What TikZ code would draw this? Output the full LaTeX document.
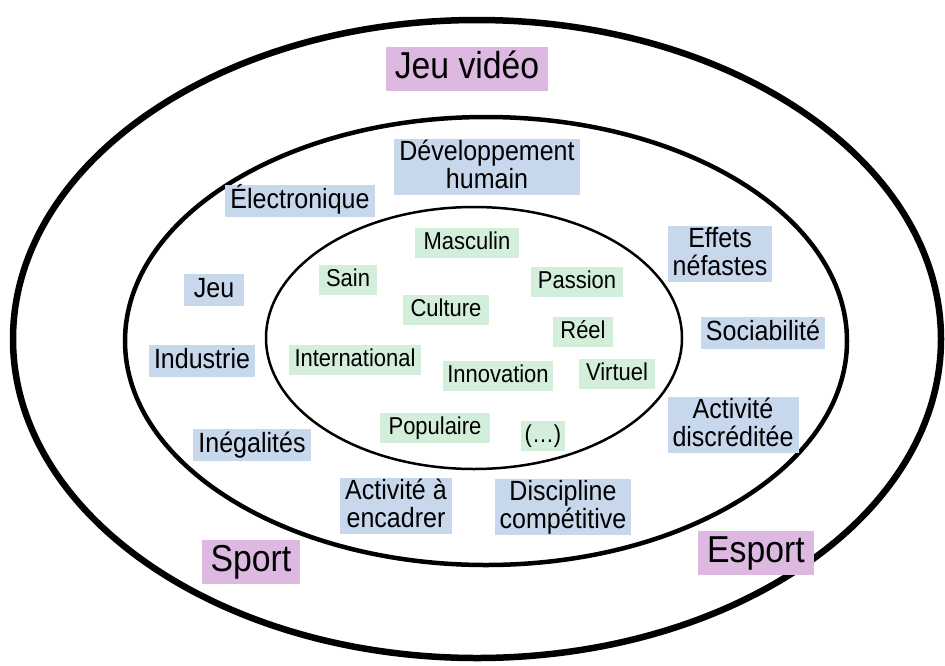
\documentclass[tikz,border=0pt]{standalone}
\usepackage{fontspec}
\setmainfont{Liberation Sans}[FakeStretch=0.9]
\usepackage{tikz}
\usetikzlibrary{positioning}
\usepackage{xcolor}
\definecolor{pinkbox}{HTML}{DDB9E1}
\definecolor{bluebox}{HTML}{C8D8EC}
\definecolor{greenbox}{HTML}{D3EEDA}
\newcommand{\ls}{\rule[-6pt]{0pt}{21pt}}
\tikzset{
  domaine/.style={fill=pinkbox,font=\fontsize{37.5}{37.5}\selectfont,
    text height=27pt,text depth=7.5pt,inner xsep=9pt,inner ysep=4.8pt},
  lien/.style={fill=bluebox,font=\fontsize{27.8}{23}\selectfont,
    text height=20.5pt,text depth=6pt,inner xsep=5pt,inner ysep=2.3pt},
  lienlong/.style={fill=bluebox,font=\fontsize{27.8}{28}\selectfont,
    align=center,inner xsep=5pt,inner ysep=1pt},
  commun/.style={fill=greenbox,font=\fontsize{24.4}{24}\selectfont,
    text height=18pt,text depth=5pt,inner xsep=7pt,inner ysep=3.5pt},
}
\begin{document}
\begin{tikzpicture}[x=1pt,y=-1pt]
        \useasboundingbox (0,0) rectangle (945,665);
        % les trois cercles
        \draw[line width=6.5pt] (477,339) ellipse [x radius=464,y radius=319];
        \draw[line width=4.5pt] (486,341) ellipse [x radius=361,y radius=224];
        \draw[line width=2.5pt] (474,338) ellipse [x radius=208,y radius=131];
        % domaines
        \node[domaine] (jv)     at (467,69)  {Jeu vidéo};
        \node[domaine] (sport)  at (251,562) {Sport};
        \node[domaine] (esport) at (756,553) {Esport};
        % anneau du milieu
        \node[lienlong] (dev)   at (487,167) {\ls Développement\\\ls humain};
        \node[lien]     (elec)  at (300,201) {Électronique};
        \node[lien,minimum width=60pt] (jeu) at (214,290) {Jeu};
        \node[lien]     (indus) at (202,361) {Industrie};
        \node[lien]     (ineg)  at (252,445) {Inégalités};
        \node[lienlong] (encad) at (396,506) {\ls Activité à\\\ls encadrer};
        \node[lienlong] (disc)  at (563,507) {\ls Discipline\\\ls compétitive};
        \node[lienlong] (discr) at (733,425) {\ls Activité\\\ls discréditée};
        \node[lien]     (socia) at (763,333) {Sociabilité};
        \node[lienlong] (effet) at (720,254) {\ls Effets\\\ls néfastes};
        % centre
        \node[commun,inner xsep=9pt] (masc) at (467,243) {Masculin};
        \node[commun] (sain)  at (348,280) {Sain};
        \node[commun] (pass)  at (577,282) {Passion};
        \node[commun,inner xsep=8pt] (cult) at (446,310) {Culture};
        \node[commun] (reel)  at (583,332) {Réel};
        \node[commun,inner xsep=5.5pt] (inter) at (355,360) {International};
        \node[commun,inner xsep=4.5pt] (innov) at (498,376) {Innovation};
        \node[commun] (virt)  at (617,374) {Virtuel};
        \node[commun,inner xsep=8.5pt] (popu) at (435,428) {Populaire};
        \node[commun,inner xsep=4pt] (etc) at (543,436) {(…)};
\end{tikzpicture}
\end{document}
